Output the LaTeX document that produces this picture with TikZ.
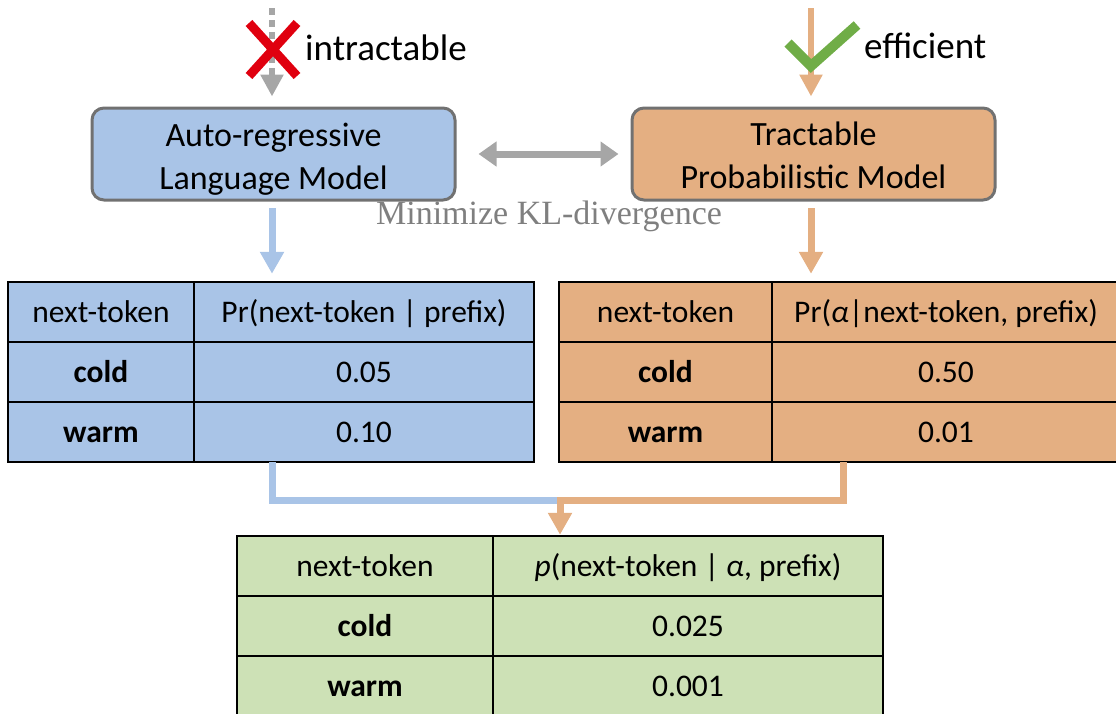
\documentclass[tikz,border=0pt]{standalone}
\usepackage{fontspec}
\setmainfont{Carlito}
\newfontfamily\kltimes{Liberation Serif}
\usetikzlibrary{arrows.meta}
\definecolor{cblue}{HTML}{A9C4E7}
\definecolor{corange}{HTML}{E4AF82}
\definecolor{cgreen}{HTML}{CDE1B6}
\definecolor{arrgray}{HTML}{A6A6A6}
\definecolor{boxgray}{HTML}{717171}
\definecolor{klgray}{HTML}{7F7F7F}
\definecolor{xred}{HTML}{E0000F}
\definecolor{chkgreen}{HTML}{70AD47}
\tikzset{
  modelbox/.style={draw=boxgray, line width=3pt, rounded corners=12pt,
    minimum width=363pt, minimum height=92pt, inner sep=0pt},
  boxtext/.style={align=center, inner sep=0pt, font=\fontsize{34}{43}\selectfont},
  cell/.style={draw=black, line width=2.5pt, inner sep=0pt, minimum height=60pt,
    text height=24pt, text depth=4pt,
    font=\fontsize{31.5}{36}\selectfont},
  blueline/.style={draw=cblue, line width=7pt},
  orangeline/.style={draw=corange, line width=7pt},
  downtip/.style={-{Triangle[width=23pt,length=22pt]}},
  toplabel/.style={font=\fontsize{37}{42}\selectfont, anchor=west, inner sep=0pt}
}
\begin{document}
\begin{tikzpicture}[x=1pt,y=-1pt]
\useasboundingbox (0,0) rectangle (1116,713);
\clip (0,0) rectangle (1116,713);

% model boxes
\node[modelbox, fill=cblue] (arlm) at (273.5,154) {};
\node[boxtext] (arlmtext) at ([yshift=-5pt]arlm.center) {Auto-regressive\\Language Model};
\node[modelbox, fill=corange] (tpm) at (813.5,154) {};
\node[boxtext] (tpmtext) at ([yshift=-1pt]tpm.center) {Tractable\\Probabilistic Model};

% top arrows
\coordinate (gtop) at (272,8);
\coordinate (otop) at (811,8);
\draw[draw=arrgray, line width=6pt, dash pattern=on 7pt off 5pt, -{Triangle[width=22pt,length=22pt]}, shorten >=10pt]
  (gtop) -- (gtop |- arlm.north);
\draw[draw=corange, line width=6pt, -{Triangle[width=22pt,length=22pt]}, shorten >=10pt]
  (otop) -- (otop |- tpm.north);
% red cross
\coordinate (x1) at (249,23); \coordinate (x2) at (297,76);
\coordinate (x3) at (297,23); \coordinate (x4) at (249,76);
\draw[xred, line width=9pt] (x1) -- (x2) (x3) -- (x4);
% green check
\coordinate (c1) at (788,43); \coordinate (c2) at (811,66); \coordinate (c3) at (857,25);
\draw[chkgreen, line width=10pt] (c1) -- (c2) -- (c3);
\node[toplabel] (intr) at (305,48) {intractable};
\node[toplabel] (effi) at (864,46) {efficient};

% KL double arrow
\draw[draw=arrgray, line width=7pt, {Triangle[width=24pt,length=18pt]}-{Triangle[width=24pt,length=18pt]},
  shorten <=22pt, shorten >=12pt] (arlm.east) -- (tpm.west);
\node[font=\kltimes\fontsize{34}{40}\selectfont, text=klgray, inner sep=0pt] (kl) at (549,216) {Minimize KL-divergence};

% left table
\node[cell, fill=cblue, minimum width=186pt] (lA) at (101,312) {next-token};
\node[cell, fill=cblue, minimum width=340pt] (lB) at (364,312) {Pr(next-token | prefix)};
\node[cell, fill=cblue, minimum width=186pt] (lC) at (101,372) {\textbf{cold}};
\node[cell, fill=cblue, minimum width=340pt] (lD) at (364,372) {0.05};
\node[cell, fill=cblue, minimum width=186pt] (lE) at (101,432) {\textbf{warm}};
\node[cell, fill=cblue, minimum width=340pt] (lF) at (364,432) {0.10};

% right table
\node[cell, fill=corange, minimum width=213pt] (rA) at (665.5,312) {next-token};
\node[cell, fill=corange, minimum width=348pt] (rB) at (946,312) {Pr(\textit{α}|next-token, prefix)};
\node[cell, fill=corange, minimum width=213pt] (rC) at (665.5,372) {\textbf{cold}};
\node[cell, fill=corange, minimum width=348pt] (rD) at (946,372) {0.50};
\node[cell, fill=corange, minimum width=213pt] (rE) at (665.5,432) {\textbf{warm}};
\node[cell, fill=corange, minimum width=348pt] (rF) at (946,432) {0.01};

% bottom table
\node[cell, fill=cgreen, minimum width=256pt] (bA) at (365,566) {next-token};
\node[cell, fill=cgreen, minimum width=390pt] (bB) at (688,566) {\textit{p}(next-token | \textit{α}, prefix)};
\node[cell, fill=cgreen, minimum width=256pt] (bC) at (365,626) {\textbf{cold}};
\node[cell, fill=cgreen, minimum width=390pt] (bD) at (688,626) {0.025};
\node[cell, fill=cgreen, minimum width=256pt] (bE) at (365,686) {\textbf{warm}};
\node[cell, fill=cgreen, minimum width=390pt] (bF) at (688,686) {0.001};

% model -> table arrows
\coordinate (la) at (272,200);
\coordinate (ra) at (811,200);
\draw[blueline, downtip, shorten <=8pt, shorten >=7pt] (la) -- (la |- lB.north);
\draw[orangeline, downtip, shorten <=8pt, shorten >=7pt] (ra) -- (ra |- rB.north);

% merge connector
\coordinate (bj) at (560,500);
\coordinate (bl) at (272,462);
\coordinate (ol) at (843,462);
\coordinate (bend) at (557,500);
\draw[blueline] (bl) |- (bend);
\draw[orangeline, downtip] (ol) |- (bj) -- (bj |- bB.north);
\end{tikzpicture}
\end{document}
